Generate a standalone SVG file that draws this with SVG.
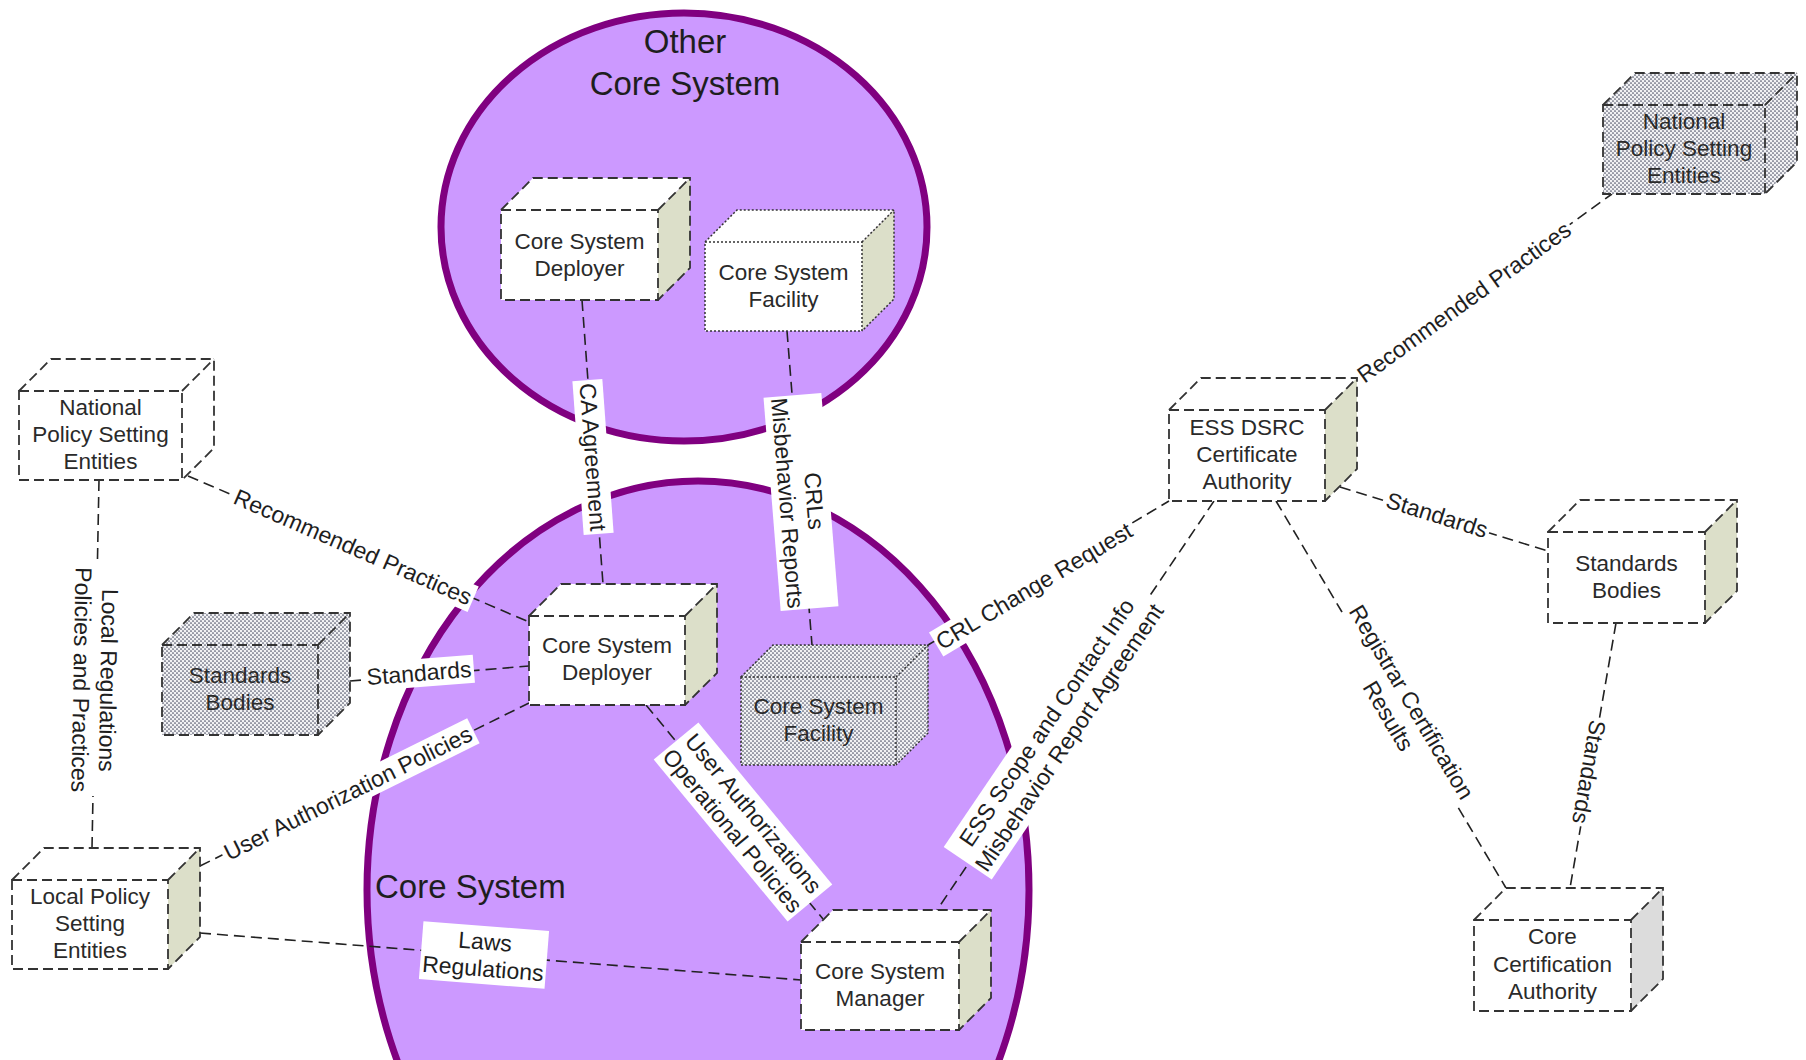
<svg xmlns="http://www.w3.org/2000/svg" width="1806" height="1060" viewBox="0 0 1806 1060">
  <defs>
    <pattern id="dots" width="4" height="4" patternUnits="userSpaceOnUse">
      <rect width="4" height="4" fill="#f2f2f4"/>
      <circle cx="1" cy="1" r="0.85" fill="#4e5268"/>
      <circle cx="3" cy="3" r="0.85" fill="#4e5268"/>
    </pattern>
    <style>
      text { font-family: "Liberation Sans", Arial, sans-serif; fill: #1e1e1e; }
      .sys { fill: #cc99ff; stroke: #800080; stroke-width: 7; }
      .title { font-size: 33px; }
      .ntext { font-size: 22.5px; text-anchor: middle; fill: #2a2a2a; }
      .ltext { font-size: 23px; text-anchor: middle; }
      .front { fill: #ffffff; }
      .top { fill: #ffffff; }
      .side { fill: #dcdfc9; }
      .side-grey { fill: #dcdcdc; }
      .dotted { fill: url(#dots); }
      .edge { fill: none; stroke: #333333; stroke-width: 1.8; stroke-dasharray: 10 5; }
      .edge-dot { fill: none; stroke: #333333; stroke-width: 1.5; stroke-dasharray: 2 2; }
      .link { fill: none; stroke: #222222; stroke-width: 1.6; stroke-dasharray: 11 6; }
      .lbg { fill: #ffffff; }
    </style>
  </defs>

  <rect width="1806" height="1060" fill="#ffffff"/>

  <!-- system boundaries -->
  <g id="other-core-system">
    <ellipse class="sys" cx="684" cy="227" rx="243" ry="214"/>
    <text class="title" x="685" y="53" text-anchor="middle">Other</text>
    <text class="title" x="685" y="95" text-anchor="middle">Core System</text>
  </g>
  <g id="core-system">
    <ellipse class="sys" cx="698" cy="890" rx="331" ry="409"/>
    <text class="title" x="375" y="898">Core System</text>
  </g>

  <!-- connectors and their labels -->
  <g id="connectors">
    <g id="c-rec-left">
      <line class="link" x1="188" y1="476" x2="529" y2="622"/>
      <g transform="translate(353,547) rotate(23.5)">
        <rect class="lbg" x="-131" y="-14" width="262" height="28"/>
        <text class="ltext" y="8">Recommended Practices</text>
      </g>
    </g>
    <g id="c-std-left">
      <line class="link" x1="350" y1="681" x2="529" y2="666"/>
      <g transform="translate(419,673) rotate(-4.5)">
        <rect class="lbg" x="-55" y="-14" width="110" height="28"/>
        <text class="ltext" y="8">Standards</text>
      </g>
    </g>
    <g id="c-uap">
      <line class="link" x1="200" y1="866" x2="529" y2="703"/>
      <g transform="translate(348,793) rotate(-26.4)">
        <rect class="lbg" x="-140" y="-14" width="280" height="28"/>
        <text class="ltext" y="8">User Authorization Policies</text>
      </g>
    </g>
    <g id="c-local-reg">
      <line class="link" x1="99" y1="480" x2="92" y2="848"/>
      <g transform="translate(95,680) rotate(91.1)">
        <rect class="lbg" x="-116" y="-28" width="232" height="56"/>
        <text class="ltext" y="-5.5">Local Regulations</text>
        <text class="ltext" y="21.5">Policies and Practices</text>
      </g>
    </g>
    <g id="c-laws">
      <line class="link" x1="200" y1="933" x2="801" y2="980"/>
      <g transform="translate(484,955) rotate(4.5)">
        <rect class="lbg" x="-63" y="-29" width="126" height="58"/>
        <text class="ltext" y="-5.5">Laws</text>
        <text class="ltext" y="21.5">Regulations</text>
      </g>
    </g>
    <g id="c-ua-op">
      <line class="link" x1="646" y1="705" x2="823" y2="919"/>
      <g transform="translate(743,822) rotate(50.4)">
        <rect class="lbg" x="-105" y="-29" width="210" height="58"/>
        <text class="ltext" y="-5.5">User Authorizations</text>
        <text class="ltext" y="21.5">Operational Policies</text>
      </g>
    </g>
    <g id="c-ca">
      <line class="link" x1="582" y1="300" x2="603" y2="584"/>
      <g transform="translate(593,457) rotate(85.8)">
        <rect class="lbg" x="-77" y="-15" width="154" height="30"/>
        <text class="ltext" y="8">CA Agreement</text>
      </g>
    </g>
    <g id="c-crls">
      <line class="link" x1="787" y1="331" x2="812" y2="645"/>
      <g transform="translate(801,502) rotate(85.4)">
        <rect class="lbg" x="-107" y="-29" width="214" height="58"/>
        <text class="ltext" y="-5.5">CRLs</text>
        <text class="ltext" y="21.5">Misbehavior Reports</text>
      </g>
    </g>
    <g id="c-crl-change">
      <line class="link" x1="928" y1="645" x2="1169" y2="501"/>
      <g transform="translate(1034,586) rotate(-30.9)">
        <rect class="lbg" x="-114" y="-14" width="228" height="28"/>
        <text class="ltext" y="8">CRL Change Request</text>
      </g>
    </g>
    <g id="c-ess-scope">
      <line class="link" x1="1214" y1="501" x2="937" y2="910"/>
      <g transform="translate(1058,730) rotate(-55.9)">
        <rect class="lbg" x="-161" y="-29" width="322" height="58"/>
        <text class="ltext" y="-5.5">ESS Scope and Contact Info</text>
        <text class="ltext" y="21.5">Misbehavior Report Agreement</text>
      </g>
    </g>
    <g id="c-std-right">
      <line class="link" x1="1340" y1="487" x2="1548" y2="551"/>
      <g transform="translate(1437,515) rotate(17.4)">
        <rect class="lbg" x="-55" y="-14" width="110" height="28"/>
        <text class="ltext" y="8">Standards</text>
      </g>
    </g>
    <g id="c-registrar">
      <line class="link" x1="1276" y1="501" x2="1506" y2="888"/>
      <g transform="translate(1400,709) rotate(59.3)">
        <rect class="lbg" x="-113" y="-29" width="226" height="58"/>
        <text class="ltext" y="-5.5">Registrar Certification</text>
        <text class="ltext" y="21.5">Results</text>
      </g>
    </g>
    <g id="c-std-cca">
      <line class="link" x1="1616" y1="623" x2="1570" y2="888"/>
      <g transform="translate(1589,772) rotate(99.9)">
        <rect class="lbg" x="-55" y="-14" width="110" height="28"/>
        <text class="ltext" y="8">Standards</text>
      </g>
    </g>
    <g id="c-rec-right">
      <line class="link" x1="1357" y1="378" x2="1612" y2="194"/>
      <g transform="translate(1464,302) rotate(-35.8)">
        <rect class="lbg" x="-131" y="-14" width="262" height="28"/>
        <text class="ltext" y="8">Recommended Practices</text>
      </g>
    </g>
  </g>

  <!-- nodes: front face, top face, side face, then edges -->
  <g id="other-deployer">
    <polygon class="top" points="501,210 533,178 690,178 658,210"/>
    <polygon class="side" points="658,210 690,178 690,268 658,300"/>
    <rect class="front" x="501" y="210" width="157" height="90"/>
    <path class="edge" d="M501,210 L533,178 H690 V268 L658,300 M658,210 L690,178"/>
    <rect class="edge" x="501" y="210" width="157" height="90"/>
    <text class="ntext" x="579.5" y="249">Core System</text>
    <text class="ntext" x="579.5" y="276">Deployer</text>
  </g>

  <g id="other-facility">
    <polygon class="top" points="705,242 737,210 894,210 862,242"/>
    <polygon class="side" points="862,242 894,210 894,299 862,331"/>
    <rect class="front" x="705" y="242" width="157" height="89"/>
    <path class="edge-dot" d="M705,242 L737,210 H894 V299 L862,331 M862,242 L894,210"/>
    <rect class="edge-dot" x="705" y="242" width="157" height="89"/>
    <text class="ntext" x="783.5" y="280">Core System</text>
    <text class="ntext" x="783.5" y="307">Facility</text>
  </g>

  <g id="core-deployer">
    <polygon class="top" points="529,616 561,584 717,584 685,616"/>
    <polygon class="side" points="685,616 717,584 717,673 685,705"/>
    <rect class="front" x="529" y="616" width="156" height="89"/>
    <path class="edge" d="M529,616 L561,584 H717 V673 L685,705 M685,616 L717,584"/>
    <rect class="edge" x="529" y="616" width="156" height="89"/>
    <text class="ntext" x="607" y="653">Core System</text>
    <text class="ntext" x="607" y="680">Deployer</text>
  </g>

  <g id="core-facility">
    <polygon class="dotted" points="741,677 773,645 928,645 928,733 896,765 741,765"/>
    <path class="edge-dot" d="M741,677 L773,645 H928 V733 L896,765 M896,677 L928,645"/>
    <rect class="edge-dot" x="741" y="677" width="155" height="88"/>
    <text class="ntext" x="818.5" y="714">Core System</text>
    <text class="ntext" x="818.5" y="741">Facility</text>
  </g>

  <g id="core-manager">
    <polygon class="top" points="801,942 833,910 991,910 959,942"/>
    <polygon class="side" points="959,942 991,910 991,998 959,1030"/>
    <rect class="front" x="801" y="942" width="158" height="88"/>
    <path class="edge" d="M801,942 L833,910 H991 V998 L959,1030 M959,942 L991,910"/>
    <rect class="edge" x="801" y="942" width="158" height="88"/>
    <text class="ntext" x="880" y="979">Core System</text>
    <text class="ntext" x="880" y="1006">Manager</text>
  </g>

  <g id="national-policy-left">
    <polygon class="top" points="19,391 51,359 214,359 182,391"/>
    <polygon class="front" points="182,391 214,359 214,448 182,480"/>
    <rect class="front" x="19" y="391" width="163" height="89"/>
    <path class="edge" d="M19,391 L51,359 H214 V448 L182,480 M182,391 L214,359"/>
    <rect class="edge" x="19" y="391" width="163" height="89"/>
    <text class="ntext" x="100.5" y="415">National</text>
    <text class="ntext" x="100.5" y="442">Policy Setting</text>
    <text class="ntext" x="100.5" y="469">Entities</text>
  </g>

  <g id="standards-left">
    <polygon class="dotted" points="162,645 194,613 350,613 350,703 318,735 162,735"/>
    <path class="edge" d="M162,645 L194,613 H350 V703 L318,735 M318,645 L350,613"/>
    <rect class="edge" x="162" y="645" width="156" height="90"/>
    <text class="ntext" x="240" y="683">Standards</text>
    <text class="ntext" x="240" y="710">Bodies</text>
  </g>

  <g id="local-policy">
    <polygon class="top" points="12,880 44,848 200,848 168,880"/>
    <polygon class="side" points="168,880 200,848 200,937 168,969"/>
    <rect class="front" x="12" y="880" width="156" height="89"/>
    <path class="edge" d="M12,880 L44,848 H200 V937 L168,969 M168,880 L200,848"/>
    <rect class="edge" x="12" y="880" width="156" height="89"/>
    <text class="ntext" x="90" y="904">Local Policy</text>
    <text class="ntext" x="90" y="931">Setting</text>
    <text class="ntext" x="90" y="958">Entities</text>
  </g>

  <g id="ess-dsrc-ca">
    <polygon class="top" points="1169,410 1201,378 1357,378 1325,410"/>
    <polygon class="side" points="1325,410 1357,378 1357,469 1325,501"/>
    <rect class="front" x="1169" y="410" width="156" height="91"/>
    <path class="edge" d="M1169,410 L1201,378 H1357 V469 L1325,501 M1325,410 L1357,378"/>
    <rect class="edge" x="1169" y="410" width="156" height="91"/>
    <text class="ntext" x="1247" y="435">ESS DSRC</text>
    <text class="ntext" x="1247" y="462">Certificate</text>
    <text class="ntext" x="1247" y="489">Authority</text>
  </g>

  <g id="standards-right">
    <polygon class="top" points="1548,532 1580,500 1737,500 1705,532"/>
    <polygon class="side" points="1705,532 1737,500 1737,591 1705,623"/>
    <rect class="front" x="1548" y="532" width="157" height="91"/>
    <path class="edge" d="M1548,532 L1580,500 H1737 V591 L1705,623 M1705,532 L1737,500"/>
    <rect class="edge" x="1548" y="532" width="157" height="91"/>
    <text class="ntext" x="1626.5" y="571">Standards</text>
    <text class="ntext" x="1626.5" y="598">Bodies</text>
  </g>

  <g id="core-cert-authority">
    <polygon class="top" points="1474,920 1506,888 1663,888 1631,920"/>
    <polygon class="side-grey" points="1631,920 1663,888 1663,979 1631,1011"/>
    <rect class="front" x="1474" y="920" width="157" height="91"/>
    <path class="edge" d="M1474,920 L1506,888 H1663 V979 L1631,1011 M1631,920 L1663,888"/>
    <rect class="edge" x="1474" y="920" width="157" height="91"/>
    <text class="ntext" x="1552.5" y="944">Core</text>
    <text class="ntext" x="1552.5" y="972">Certification</text>
    <text class="ntext" x="1552.5" y="999">Authority</text>
  </g>

  <g id="national-policy-right">
    <polygon class="dotted" points="1603,105 1635,73 1797,73 1797,162 1765,194 1603,194"/>
    <path class="edge" d="M1603,105 L1635,73 H1797 V162 L1765,194 M1765,105 L1797,73"/>
    <rect class="edge" x="1603" y="105" width="162" height="89"/>
    <text class="ntext" x="1684" y="129">National</text>
    <text class="ntext" x="1684" y="156">Policy Setting</text>
    <text class="ntext" x="1684" y="183">Entities</text>
  </g>
</svg>
